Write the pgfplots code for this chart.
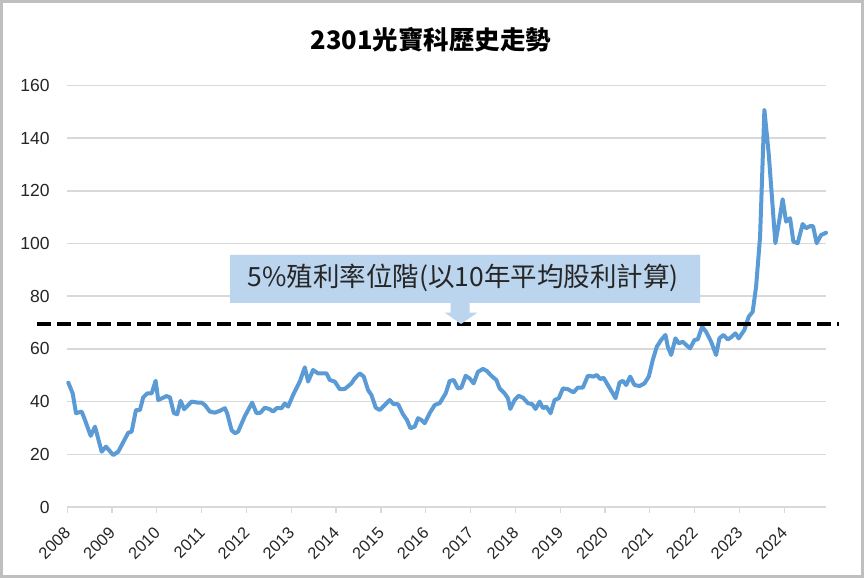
\documentclass[border=0pt]{standalone}
\usepackage{graphicx}
\usepackage{pgfplots}
\pgfplotsset{compat=1.18}
\usepackage{fontspec}
\setmainfont{Liberation Sans}
\newfontfamily\cjk{Noto Sans CJK TC}
\definecolor{linec}{RGB}{91,155,213}
\definecolor{callc}{RGB}{187,213,238}
\definecolor{gridc}{RGB}{217,217,217}
\definecolor{txt}{RGB}{38,38,38}
\begin{document}
\begin{tikzpicture}[x=1pt,y=1pt]
\useasboundingbox (0,0) rectangle (864,578);
\fill[white] (0,0) rectangle (864,578);
\begin{axis}[
  at={(67.2pt,71pt)}, anchor=south west,
  scale only axis, width=758.8pt, height=421.6pt,
  xmin=2008, xmax=2024.93, ymin=0, ymax=160,
  clip=false,
  axis x line*=bottom, axis y line*=left,
  y axis line style={draw=none},
  x axis line style={draw=gridc, line width=1.5pt},
  xtick={2008,...,2024},
  ytick={0,20,...,160},
  ymajorgrids, grid style={draw=gridc, line width=1.5pt},
  ytick style={draw=none},
  xtick style={draw=gridc, line width=1.2pt},
  tick align=outside,
  major tick length=6pt,
  y tick label style={font=\fontsize{17.5}{20}\selectfont, text=txt, xshift=-8pt},
  x tick label style={anchor=north east, inner sep=0pt, font=\fontsize{16.5}{19}\selectfont, text=txt, xshift=4.5pt, yshift=-13pt},
  xticklabel={\rotatebox{45}{\pgfmathprintnumber[1000 sep={},assume math mode=true]{\tick}}},
  yticklabel={\pgfmathprintnumber[assume math mode=true]{\tick}},
]
\addplot[color=linec, line width=4pt, line join=round, line cap=round, mark=none] coordinates {
(2008.025,47.2) (2008.123,43.1) (2008.196,35.6) (2008.323,36.2) (2008.397,33.0)
(2008.524,27.0) (2008.620,30.5) (2008.769,21.0) (2008.865,22.9) (2009.028,19.7)
(2009.139,21.0) (2009.362,28.2) (2009.438,28.6) (2009.534,36.8) (2009.623,36.8)
(2009.696,41.6) (2009.786,43.1) (2009.884,43.1) (2009.973,47.9) (2010.031,40.6)
(2010.218,42.1) (2010.292,41.6) (2010.381,35.6) (2010.454,35.2) (2010.530,40.3)
(2010.610,37.1) (2010.775,40.0) (2010.922,39.6) (2010.998,39.6) (2011.072,38.7)
(2011.183,36.2) (2011.295,35.8) (2011.406,36.5) (2011.518,37.5) (2011.569,35.6)
(2011.667,29.2) (2011.741,28.0) (2011.814,28.6) (2011.963,34.5) (2012.126,39.6)
(2012.224,35.6) (2012.313,35.8) (2012.409,37.7) (2012.521,37.1) (2012.594,36.2)
(2012.670,37.5) (2012.782,37.5) (2012.855,39.3) (2012.929,38.1) (2013.040,42.5)
(2013.190,47.6) (2013.301,53.0) (2013.375,47.6) (2013.486,52.0) (2013.597,50.7)
(2013.785,50.7) (2013.858,48.2) (2013.970,47.6) (2014.081,44.7) (2014.193,44.8)
(2014.342,46.9) (2014.416,48.8) (2014.527,50.7) (2014.616,49.5) (2014.712,44.4)
(2014.788,42.5) (2014.884,37.7) (2014.973,36.8) (2015.084,38.7) (2015.196,40.6)
(2015.285,39.0) (2015.381,39.0) (2015.492,35.2) (2015.581,33.0) (2015.657,29.9)
(2015.753,30.5) (2015.827,33.7) (2015.902,33.0) (2015.976,31.8) (2016.087,35.6)
(2016.199,38.7) (2016.310,39.4) (2016.444,43.1) (2016.533,47.8) (2016.622,48.2)
(2016.718,45.0) (2016.794,45.3) (2016.890,49.8) (2016.979,48.8) (2017.068,46.9)
(2017.164,51.3) (2017.276,52.4) (2017.365,51.6) (2017.463,49.8) (2017.574,48.2)
(2017.648,45.0) (2017.759,43.1) (2017.833,41.3) (2017.886,37.2) (2017.982,40.6)
(2018.071,42.2) (2018.167,41.5) (2018.279,39.4) (2018.377,39.0) (2018.450,37.2)
(2018.540,40.0) (2018.613,37.5) (2018.689,38.1) (2018.785,35.6) (2018.874,40.6)
(2018.970,41.3) (2019.059,45.0) (2019.170,44.7) (2019.297,43.5) (2019.393,45.3)
(2019.505,45.3) (2019.616,49.8) (2019.744,49.5) (2019.817,50.1) (2019.893,48.5)
(2019.966,49.1) (2020.062,46.3) (2020.174,43.1) (2020.234,41.3) (2020.323,47.2)
(2020.397,47.9) (2020.472,46.3) (2020.561,49.5) (2020.657,46.3) (2020.769,45.9)
(2020.880,46.9) (2020.976,49.5) (2021.065,55.8) (2021.154,60.8) (2021.252,63.4)
(2021.348,65.3) (2021.400,60.8) (2021.475,57.7) (2021.571,64.0) (2021.645,62.1)
(2021.734,62.7) (2021.810,61.5) (2021.899,60.2) (2021.995,63.4) (2022.068,63.6)
(2022.166,68.4) (2022.255,66.5) (2022.367,62.7) (2022.478,57.7) (2022.552,64.0)
(2022.641,65.3) (2022.737,63.6) (2022.813,64.4) (2022.909,65.9) (2022.982,64.0)
(2023.109,67.2) (2023.205,72.2) (2023.294,74.1) (2023.370,83.6) (2023.459,102.6)
(2023.555,150.7) (2023.651,134.2) (2023.800,100.1) (2023.889,108.9) (2023.963,116.8)
(2024.039,108.3) (2024.128,109.6) (2024.202,100.7) (2024.298,100.1) (2024.409,107.4)
(2024.485,105.8) (2024.574,106.6) (2024.641,106.6) (2024.721,100.1) (2024.819,103.2)
(2024.931,104.1)
};
\addplot[color=black, line width=4.5pt, dash pattern=on 14pt off 6pt, mark=none] coordinates {(2007.327,69.4) (2025.227,69.4)};
\end{axis}
% callout
\fill[callc] (230,323) -- (700,323) -- (700,275) -- (469.7,275) -- (469.7,265.3) -- (477.2,265.3) -- (461,254) -- (444.8,265.3) -- (450.6,265.3) -- (450.6,275) -- (230,275) -- cycle;
\node[text=txt, font=\cjk\fontsize{26.5}{30}\selectfont, inner sep=0pt] at (463,300) {5\%殖利率位階(以10年平均股利計算)};
% title
\node[text=black, font=\cjk\bfseries\fontsize{25.5}{30}\selectfont, inner sep=0pt] at (431,538) {2301光寶科歷史走勢};
% frame
\draw[gray!50, line width=3pt] (1.5,1.5) rectangle (862.5,576.5);
\end{tikzpicture}
\end{document}
